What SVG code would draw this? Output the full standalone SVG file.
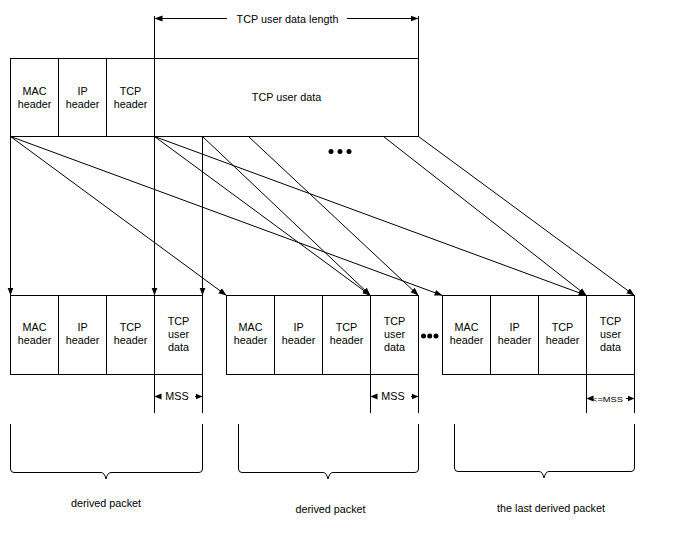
<svg xmlns="http://www.w3.org/2000/svg" width="682" height="534" viewBox="0 0 682 534">
<style>
.box{fill:none;stroke:#000;stroke-width:1}
.ln{fill:none;stroke:#000;stroke-width:1}
.t{font-family:"Liberation Sans",Arial,sans-serif;font-size:10.8px;text-anchor:middle;fill:#000}
.dot{fill:#000}
</style>
<defs>
<marker id="ah" viewBox="0 -4 8 8" refX="8" refY="0" markerWidth="8" markerHeight="8" orient="auto" markerUnits="userSpaceOnUse"><path d="M0,-3 L8,0 L0,3 z" fill="#000"/></marker>
<marker id="as" viewBox="0 -4 7 8" refX="7" refY="0" markerWidth="7" markerHeight="8" orient="auto" markerUnits="userSpaceOnUse"><path d="M0,-3 L7,0 L0,3 z" fill="#000"/></marker>
</defs>
<rect width="682" height="534" fill="#fff"/>

<g id="length-dimension">
<line class="ln" x1="154.5" y1="16" x2="154.5" y2="58.5"/>
<line class="ln" x1="418.5" y1="16" x2="418.5" y2="58.5"/>
<line class="ln" x1="227" y1="18.5" x2="154.5" y2="18.5" marker-end="url(#ah)"/>
<line class="ln" x1="347" y1="18.5" x2="418.5" y2="18.5" marker-end="url(#ah)"/>
<text class="t" x="287.5" y="23">TCP user data length</text>
</g>

<g id="original-packet">
<rect class="box" x="10.5" y="58.5" width="408" height="78"/>
<line class="ln" x1="58.5" y1="58.5" x2="58.5" y2="136.5"/>
<line class="ln" x1="106.5" y1="58.5" x2="106.5" y2="136.5"/>
<line class="ln" x1="154.5" y1="58.5" x2="154.5" y2="136.5"/>
<text class="t" x="34.5" y="94.5">MAC</text><text class="t" x="34.5" y="107.5">header</text>
<text class="t" x="82.5" y="94.5">IP</text><text class="t" x="82.5" y="107.5">header</text>
<text class="t" x="130.5" y="94.5">TCP</text><text class="t" x="130.5" y="107.5">header</text>
<text class="t" x="286.5" y="100.5">TCP user data</text>
<circle class="dot" cx="331" cy="151.5" r="2.5"/>
<circle class="dot" cx="340" cy="151.5" r="2.5"/>
<circle class="dot" cx="349" cy="151.5" r="2.5"/>
</g>

<g id="connectors">
<line class="ln" x1="10.5" y1="136.5" x2="10.5" y2="295.5" marker-end="url(#ah)"/>
<line class="ln" x1="10.5" y1="136.5" x2="226.5" y2="295.5" marker-end="url(#ah)"/>
<line class="ln" x1="10.5" y1="136.5" x2="442.5" y2="295.5" marker-end="url(#ah)"/>
<line class="ln" x1="154.5" y1="136.5" x2="154.5" y2="295.5" marker-end="url(#ah)"/>
<line class="ln" x1="154.5" y1="136.5" x2="370.5" y2="295.5" marker-end="url(#ah)"/>
<line class="ln" x1="154.5" y1="136.5" x2="586.5" y2="295.5" marker-end="url(#ah)"/>
<line class="ln" x1="202.5" y1="136.5" x2="202.5" y2="295.5" marker-end="url(#ah)"/>
<line class="ln" x1="202.5" y1="136.5" x2="370.5" y2="295.5" marker-end="url(#ah)"/>
<line class="ln" x1="248.5" y1="136.5" x2="418.5" y2="295.5" marker-end="url(#ah)"/>
<line class="ln" x1="383.5" y1="136.5" x2="586.5" y2="295.5" marker-end="url(#ah)"/>
<line class="ln" x1="418.5" y1="136.5" x2="634.5" y2="295.5" marker-end="url(#ah)"/>
</g>

<g id="derived-packet-1">
<rect class="box" x="10.5" y="295.5" width="192" height="79"/>
<line class="ln" x1="58.5" y1="295.5" x2="58.5" y2="374.5"/>
<line class="ln" x1="106.5" y1="295.5" x2="106.5" y2="374.5"/>
<line class="ln" x1="154.5" y1="295.5" x2="154.5" y2="374.5"/>
<text class="t" x="34.5" y="331">MAC</text><text class="t" x="34.5" y="344">header</text>
<text class="t" x="82.5" y="331">IP</text><text class="t" x="82.5" y="344">header</text>
<text class="t" x="130.5" y="331">TCP</text><text class="t" x="130.5" y="344">header</text>
<text class="t" x="178.5" y="325">TCP</text><text class="t" x="178.5" y="338">user</text><text class="t" x="178.5" y="351">data</text>
<line class="ln" x1="154.5" y1="374.5" x2="154.5" y2="413"/>
<line class="ln" x1="202.5" y1="374.5" x2="202.5" y2="413"/>
<line class="ln" x1="161" y1="396.5" x2="154.5" y2="396.5" marker-end="url(#as)"/>
<line class="ln" x1="195" y1="396.5" x2="202.5" y2="396.5" marker-end="url(#as)"/>
<text class="t" x="177" y="400">MSS</text>
</g>

<g id="derived-packet-2">
<rect class="box" x="226.5" y="295.5" width="192" height="79"/>
<line class="ln" x1="274.5" y1="295.5" x2="274.5" y2="374.5"/>
<line class="ln" x1="322.5" y1="295.5" x2="322.5" y2="374.5"/>
<line class="ln" x1="370.5" y1="295.5" x2="370.5" y2="374.5"/>
<text class="t" x="250.5" y="331">MAC</text><text class="t" x="250.5" y="344">header</text>
<text class="t" x="298.5" y="331">IP</text><text class="t" x="298.5" y="344">header</text>
<text class="t" x="346.5" y="331">TCP</text><text class="t" x="346.5" y="344">header</text>
<text class="t" x="394.5" y="325">TCP</text><text class="t" x="394.5" y="338">user</text><text class="t" x="394.5" y="351">data</text>
<line class="ln" x1="370.5" y1="374.5" x2="370.5" y2="413"/>
<line class="ln" x1="418.5" y1="374.5" x2="418.5" y2="413"/>
<line class="ln" x1="377" y1="396.5" x2="370.5" y2="396.5" marker-end="url(#as)"/>
<line class="ln" x1="411" y1="396.5" x2="418.5" y2="396.5" marker-end="url(#as)"/>
<text class="t" x="393" y="400">MSS</text>
<circle class="dot" cx="423.5" cy="336" r="2.5"/>
<circle class="dot" cx="429.7" cy="336" r="2.5"/>
<circle class="dot" cx="436" cy="336" r="2.5"/>
</g>

<g id="derived-packet-3">
<rect class="box" x="442.5" y="295.5" width="192" height="79"/>
<line class="ln" x1="490.5" y1="295.5" x2="490.5" y2="374.5"/>
<line class="ln" x1="538.5" y1="295.5" x2="538.5" y2="374.5"/>
<line class="ln" x1="586.5" y1="295.5" x2="586.5" y2="374.5"/>
<text class="t" x="466.5" y="331">MAC</text><text class="t" x="466.5" y="344">header</text>
<text class="t" x="514.5" y="331">IP</text><text class="t" x="514.5" y="344">header</text>
<text class="t" x="562.5" y="331">TCP</text><text class="t" x="562.5" y="344">header</text>
<text class="t" x="610.5" y="325">TCP</text><text class="t" x="610.5" y="338">user</text><text class="t" x="610.5" y="351">data</text>
<line class="ln" x1="586.5" y1="374.5" x2="586.5" y2="413"/>
<line class="ln" x1="634.5" y1="374.5" x2="634.5" y2="413"/>
<line class="ln" x1="592" y1="398.5" x2="586.5" y2="398.5" marker-end="url(#as)"/>
<line class="ln" x1="626" y1="398.5" x2="634.5" y2="398.5" marker-end="url(#as)"/>
<text class="t" x="607.5" y="401.5" style="font-size:8px" textLength="31" lengthAdjust="spacingAndGlyphs">&lt;=MSS</text>
</g>

<g id="brace-1">
<path class="ln" d="M10.5,424 V469 Q10.5,472.5 14,472.5 H101 Q104.5,472.5 106,479 Q107.5,472.5 111,472.5 H199 Q202.5,472.5 202.5,469 V424"/>
<text class="t" x="106" y="507">derived packet</text>
</g>
<g id="brace-2">
<path class="ln" d="M238.5,424 V469 Q238.5,472.5 242,472.5 H323 Q326.5,472.5 328,479 Q329.5,472.5 333,472.5 H415 Q418.5,472.5 418.5,469 V424"/>
<text class="t" x="330.5" y="513">derived packet</text>
</g>
<g id="brace-3">
<path class="ln" d="M454.5,424 V468 Q454.5,471.5 458,471.5 H539 Q542.5,471.5 544,478 Q545.5,471.5 549,471.5 H631 Q634.5,471.5 634.5,468 V424"/>
<text class="t" x="551" y="512">the last derived packet</text>
</g>
</svg>
